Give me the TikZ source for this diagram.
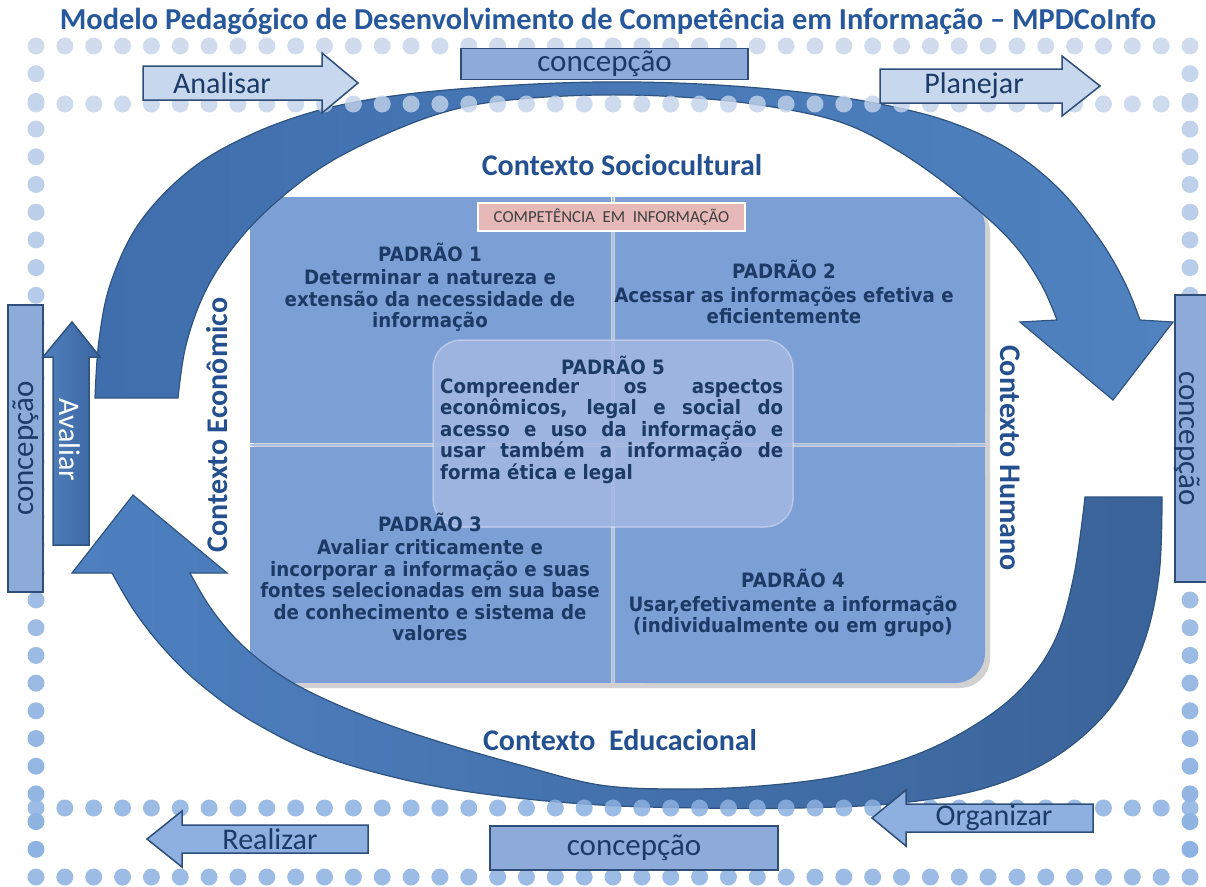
\documentclass[tikz,border=0pt]{standalone}
\usepackage{fontspec}
\setmainfont{Carlito}
\newfontfamily\tah{DejaVu Sans}[FakeStretch=0.92]
\definecolor{navy}{HTML}{1C3A66}
\definecolor{ctx}{HTML}{24508F}
\definecolor{arcline}{HTML}{2F5380}
\definecolor{boxline}{HTML}{2E4D78}
\definecolor{cbox}{HTML}{8EAAD8}
\definecolor{lightarrow}{HTML}{C6D7EE}
\definecolor{midarrow}{HTML}{8DB0E0}
\definecolor{dotA}{HTML}{C8D7EC}
\definecolor{dotB}{HTML}{8CB1E1}
\definecolor{quad}{HTML}{7C9FD5}
\definecolor{quadline}{HTML}{A9C1E8}
\definecolor{pfive}{HTML}{A3B7E2}
\definecolor{pinkfill}{HTML}{E6B8B7}
\definecolor{titlecol}{HTML}{27589C}
\tikzset{
  cboxstyle/.style={draw=boxline, line width=1.8pt, fill=cbox, inner sep=0pt, text=navy,
    font=\fontsize{31}{34}\selectfont},
  ctext/.style={text=navy, font=\fontsize{31}{34}\selectfont, inner sep=0pt},
  blockarrow/.style={draw=boxline, line width=1.5pt},
  arrowtext/.style={text=navy, font=\fontsize{30}{33}\selectfont, inner sep=0pt},
  ctxtext/.style={text=ctx, font=\bfseries\fontsize{30}{33}\selectfont, inner sep=0pt},
  padtext/.style={text=navy, font=\tah\bfseries\fontsize{19.8}{21.5}\selectfont, align=center, inner sep=0pt},
  quadstyle/.style={fill=quad},
  bigarc/.style={draw=arcline, line width=1.2pt},
}
\begin{document}
\begin{tikzpicture}[x=1pt,y=-1pt]
\useasboundingbox (0,0) rectangle (1206,886);
\fill[white] (0,0) rectangle (1206,886);

% title
\node[text=titlecol, font=\bfseries\fontsize{30.4}{33}\selectfont, inner sep=0pt] (title) at (608,21)
  {Modelo Pedagógico de Desenvolvimento de Competência em Informação – MPDCoInfo};

% ---------- central matrix ----------
\fill[black, opacity=0.18, rounded corners=30pt] (254,202) rectangle (990,688);
\fill[quadstyle] (250,197) rectangle (611,443);
\fill[quadstyle, rounded corners=30pt] (615,197) rectangle (985,443);
\fill[quadstyle] (615,197) rectangle (800,443);
\fill[quadstyle] (615,300) rectangle (985,443);
\fill[quadstyle] (250,447) rectangle (611,683);
\fill[quadstyle, rounded corners=30pt] (615,447) rectangle (985,683);
\fill[quadstyle] (615,447) rectangle (800,683);
\fill[quadstyle] (615,447) rectangle (985,560);
\draw[quadline, line width=2pt] (613,197) -- (613,683);
\draw[quadline, line width=2pt] (250,445) -- (985,445);

\fill[pfive, fill opacity=0.85, rounded corners=28pt] (433,340) rectangle (793,527);
\draw[white, opacity=0.35, line width=1.5pt, rounded corners=28pt] (433,340) rectangle (793,527);

\node[fill=pinkfill, draw=white, line width=2pt, minimum width=267pt, minimum height=28pt, inner sep=0pt,
  text=black!75, font=\fontsize{16.8}{18}\selectfont] (comp) at (611.5,217)
  {COMPETÊNCIA\ \ EM\ \ INFORMAÇÃO};

\node[padtext] (p1) at (430,287) {PADRÃO 1\\[2pt]Determinar a natureza e\\extensão da necessidade de\\informação};
\node[padtext] (p2) at (784,292) {PADRÃO 2\\[2pt]Acessar as informações efetiva e\\eficientemente};
\node[padtext] (p5t) at (613,365) {PADRÃO 5};
\node[padtext, align=left, anchor=north west] (p5) at (440,378)
  {\makebox[343pt][s]{Compreender os aspectos}\\
   \makebox[343pt][s]{econômicos, legal e social do}\\
   \makebox[343pt][s]{acesso e uso da informação e}\\
   \makebox[343pt][s]{usar também a informação de}\\
   forma ética e legal};
\node[padtext] (p3) at (430,577) {PADRÃO 3\\[2pt]Avaliar criticamente e\\incorporar a informação e suas\\fontes selecionadas em sua base\\de conhecimento e sistema de\\valores};
\node[padtext] (p4) at (793,603) {PADRÃO 4\\[2pt]Usar,efetivamente a informação\\(individualmente ou em grupo)};

% ---------- big curved arrows ----------
\draw[bigarc, left color={rgb,255:red,64;green,110;blue,172}, right color={rgb,255:red,80;green,130;blue,192}]
  plot[smooth, tension=0.6] coordinates {(95,398) (99,340) (111,282) (140,222) (190,170) (250,135) (320,110) (400,95) (500,86) (600,82) (700,84) (800,92) (880,104) (950,122) (1010,150) (1060,190) (1100,240) (1125,283) (1140,320)}
  -- (1173,322) -- (1113,400) -- (1020,322) --
  plot[smooth, tension=0.6] coordinates {(1057,320) (1040,282) (1010,240) (960,195) (900,152) (840,122) (760,105) (680,97) (600,95) (520,99) (460,108) (400,128) (330,162) (275,203) (235,245) (205,292) (186,345) (178,398)}
  -- cycle;

\draw[bigarc, left color={rgb,255:red,78;green,128;blue,192}, right color={rgb,255:red,58;green,99;blue,153}]
  plot[smooth, tension=0.6] coordinates {(1162,497) (1159,575) (1143,645) (1110,708) (1055,757) (985,788) (900,803) (800,808) (700,808) (600,805) (500,796) (410,781) (320,755) (250,720) (200,684) (165,650) (135,612) (112,573)}
  -- (72,573) -- (133,495) -- (227,573) --
  plot[smooth, tension=0.6] coordinates {(190,573) (210,607) (237,640) (270,668) (310,692) (370,718) (440,742) (520,765) (600,785) (680,789) (760,786) (840,776) (910,757) (970,728) (1020,690) (1055,640) (1074,575) (1085,497)}
  -- cycle;

% ---------- dotted frame ----------
\foreach \i in {0,...,40} {
  \pgfmathsetmacro\xx{36+\i*28.85}
  \fill[dotA, fill opacity=0.85] (\xx,46) circle (8.5pt);
  \fill[dotA!90!dotB, fill opacity=0.8] (\xx,104) circle (8.5pt);
  \fill[dotB, fill opacity=0.85] (\xx,808) circle (8.5pt);
  \fill[dotB, fill opacity=0.85] (\xx,877) circle (8.5pt);
}
\foreach \j in {1,...,29} {
  \pgfmathsetmacro\yy{46+\j*27.7}
  \pgfmathsetmacro\tt{(\yy-46)/8.31}
  \fill[dotB!\tt!dotA] (36,\yy) circle (8.5pt);
  \fill[dotB!\tt!dotA] (1190,\yy) circle (8.5pt);
}

% ---------- concepção boxes ----------
\node[cboxstyle, minimum width=287pt, minimum height=31pt] (ctop) at (604.5,64) {concepção};
\node[cboxstyle, minimum width=287pt, minimum height=35pt, rotate=90] (cleft) at (25.5,448.5) {concepção};
\node[cboxstyle, minimum width=287pt, minimum height=36pt, rotate=-90] (cright) at (1193,438.5) {};
\node[ctext, rotate=-90] (crighttext) at (1187,438.5) {concepção};
\node[cboxstyle, minimum width=288pt, minimum height=44pt] (cbottom) at (634,848) {concepção};

% ---------- block arrows ----------
\draw[blockarrow, fill=lightarrow] (143,66) -- (322,66) -- (322,53) -- (358,83) -- (322,113) -- (322,100) -- (143,100) -- cycle;
\node[arrowtext] (analisar) at (222,83) {Analisar};
\draw[blockarrow, fill=lightarrow] (880,69) -- (1062,69) -- (1062,56) -- (1100,86) -- (1062,116) -- (1062,103) -- (880,103) -- cycle;
\node[arrowtext] (planejar) at (974,86) {Planejar};

\draw[blockarrow, fill=midarrow] (368,825) -- (182,825) -- (182,811) -- (147,839) -- (182,867) -- (182,853) -- (368,853) -- cycle;
\node[arrowtext] (realizar) at (270,839) {Realizar};
\draw[blockarrow, fill=midarrow] (1093,804) -- (906,804) -- (906,790) -- (872,818) -- (906,846) -- (906,832) -- (1093,832) -- cycle;
\node[arrowtext] (organizar) at (994,818) {Organizar};

\draw[blockarrow, draw=arcline, left color={rgb,255:red,80;green,129;blue,189}, right color={rgb,255:red,58;green,100;blue,160}]
  (53,545) -- (53,357) -- (43,357) -- (72,322) -- (100,357) -- (89,357) -- (89,545) -- cycle;
\node[text=white, font=\fontsize{30}{32}\selectfont, rotate=-90, inner sep=0pt] (avaliar) at (70,440) {Avaliar};

% ---------- context labels ----------
\node[ctxtext] (socio) at (622,165) {Contexto Sociocultural};
\node[ctxtext] (educ) at (620,740) {Contexto\ \ Educacional};
\node[ctxtext, rotate=90] (econ) at (217,425) {Contexto Econômico};
\node[ctxtext, rotate=-90] (humano) at (1010,458) {Contexto Humano};
\end{tikzpicture}
\end{document}
